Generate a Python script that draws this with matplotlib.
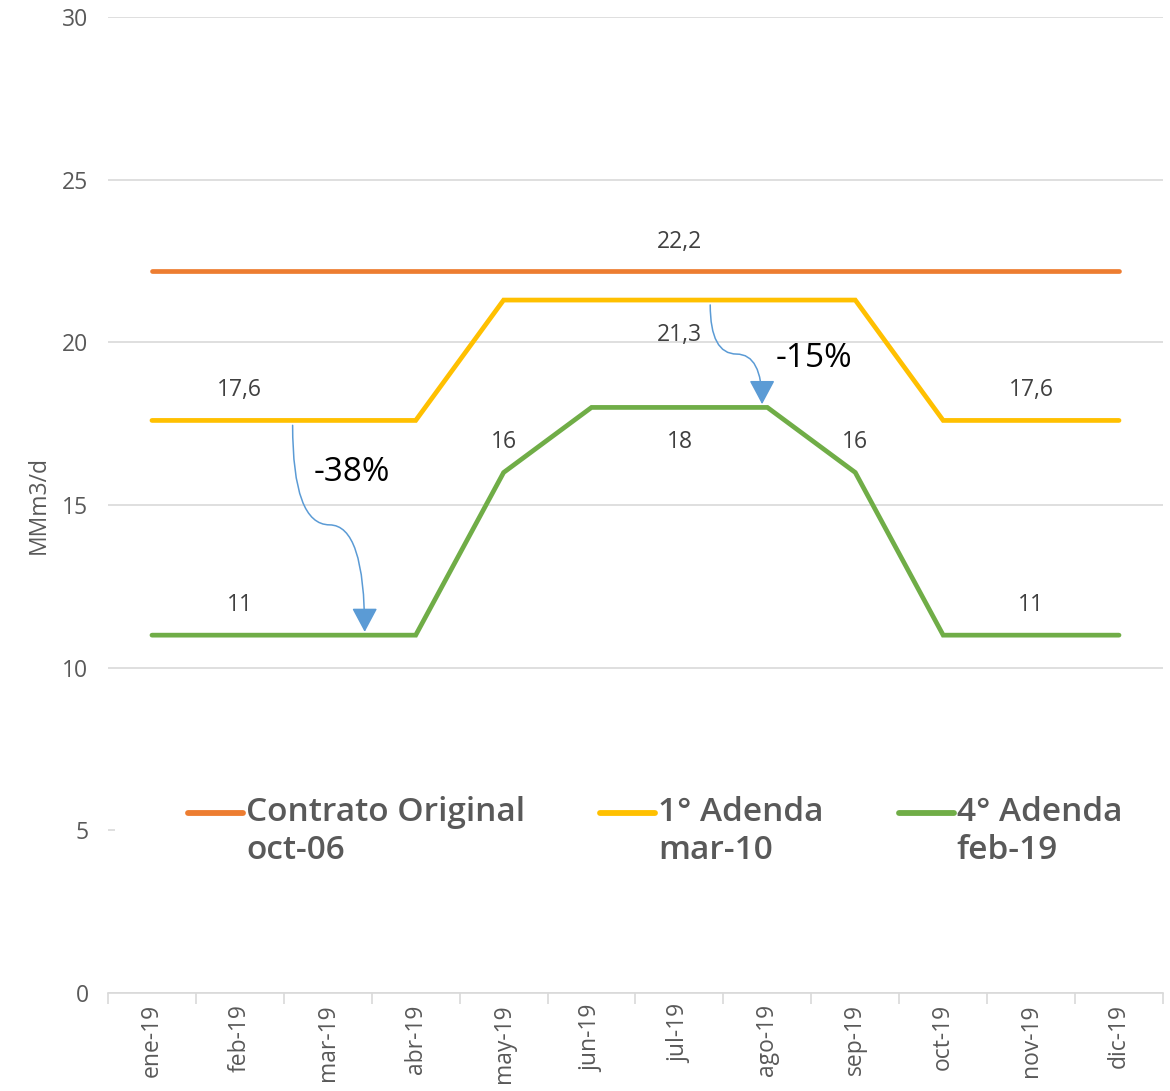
import numpy as np
import matplotlib.pyplot as plt
from matplotlib.path import Path
from matplotlib.patches import FancyArrowPatch
from matplotlib.legend_handler import HandlerLine2D

plt.rcParams['font.family'] = ['Open Sans', 'DejaVu Sans']

months = ['ene-19', 'feb-19', 'mar-19', 'abr-19', 'may-19', 'jun-19',
          'jul-19', 'ago-19', 'sep-19', 'oct-19', 'nov-19', 'dic-19']
contrato_original = [22.2] * 12
adenda_1 = [17.6, 17.6, 17.6, 17.6, 21.3, 21.3, 21.3, 21.3, 21.3, 17.6, 17.6, 17.6]
adenda_4 = [11, 11, 11, 11, 16, 18, 18, 18, 16, 11, 11, 11]

series_names = ['Contrato Original\noct-06', '1° Adenda\nmar-10', '4° Adenda\nfeb-19']
colors = ['#ED7D31', '#FFC000', '#70AD47']

# which points get a data label: (series, month index, offset in points)
labels = [
    (0, 6, 21),
    (1, 1, 22), (1, 10, 22), (1, 6, -25),
    (2, 1, 22), (2, 10, 22), (2, 4, 22), (2, 8, 22), (2, 6, -25),
]

TEXT = '#595959'
GRID = '#D9D9D9'
ARROW = '#5B9BD5'

fig = plt.figure(figsize=(11.7, 10.91), dpi=100)
ax = fig.add_axes([0.0923, 0.0898, 0.9017, 0.8946])

x = np.arange(len(months))
all_series = [contrato_original, adenda_1, adenda_4]
for vals, name, c in zip(all_series, series_names, colors):
    ax.plot(x, vals, color=c, lw=3.4, label=name, solid_capstyle='round',
            solid_joinstyle='miter', zorder=3)

for s, i, off in labels:
    v = all_series[s][i]
    txt = f"{v:g}".replace('.', ',')
    ax.annotate(txt, (x[i], v), xytext=(0, off), textcoords='offset points',
                ha='center', va='center', fontsize=16.5, color='#404040')


def curved_arrow(x0, y0, x1, y1, xm, ym):
    verts = [(x0, y0), (x0, ym), (xm, ym), (x1, ym), (x1, y1)]
    codes = [Path.MOVETO, Path.CURVE3, Path.CURVE3, Path.CURVE3, Path.CURVE3]
    arr = FancyArrowPatch(path=Path(verts, codes),
                          arrowstyle='-|>,head_length=0.6,head_width=0.32',
                          mutation_scale=25, color=ARROW, lw=1.1, zorder=4)
    ax.add_patch(arr)


curved_arrow(1.60, 17.45, 2.42, 11.1, 2.02, 14.39)
curved_arrow(6.35, 21.15, 6.94, 18.1, 6.65, 19.64)
ax.text(2.27, 16.0, '-38%', fontsize=24, ha='center', va='center', color='black')
ax.text(7.53, 19.5, '-15%', fontsize=24, ha='center', va='center', color='black')

ax.set_xlim(-0.5, 11.5)
ax.set_ylim(0, 30)
ax.set_yticks(np.arange(0, 31, 5))
ax.set_xticks(x)
ax.set_xticklabels(months, rotation=90)
ax.set_xticks(np.arange(-0.5, 12, 1), minor=True)
ax.tick_params(axis='x', which='major', length=0, pad=8, labelsize=16.5, labelcolor=TEXT)
ax.tick_params(axis='x', which='minor', length=8, color=GRID, width=1.2)
ax.tick_params(axis='y', length=0, pad=14, labelsize=16.5, labelcolor=TEXT)
ax.grid(axis='y', color=GRID, lw=1.2)
ax.set_axisbelow(True)
for sp in ['top', 'right', 'left']:
    ax.spines[sp].set_visible(False)
ax.spines['bottom'].set_color(GRID)
ax.spines['bottom'].set_linewidth(1.2)
ax.set_ylabel('MMm3/d', fontsize=16.5, color=TEXT, labelpad=8)

LEG_FS = 24


def lift_handle(legline, orig):
    # put the line next to the first line of the two-line label
    legline.update_from(orig)
    legline.set_linewidth(4.2)
    legline.set_solid_capstyle('round')
    legline.set_ydata(np.asarray(legline.get_ydata()) + 0.6 * LEG_FS)


leg = ax.legend(loc='center', bbox_to_anchor=(0.5185, 0.165), ncol=3,
                frameon=True, fancybox=False, facecolor='white', edgecolor='none',
                framealpha=1, borderpad=2.2,
                handlelength=1.65, handletextpad=0.09, columnspacing=2.25,
                prop={'size': LEG_FS, 'weight': 'semibold'},
                handler_map={plt.Line2D: HandlerLine2D(update_func=lift_handle)})
leg.set_zorder(10)
for t in leg.get_texts():
    t.set_color(TEXT)
    t.set_linespacing(1.2)

fig.savefig('out.png', dpi=100)
